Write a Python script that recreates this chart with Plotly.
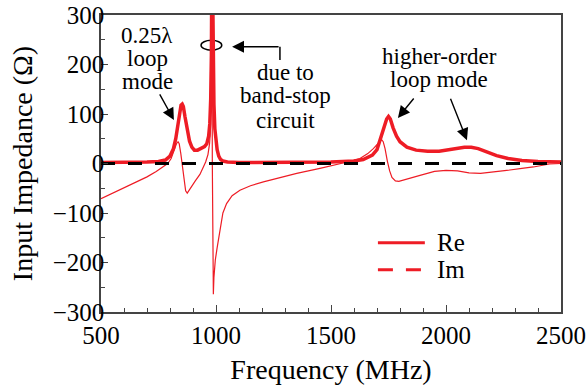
import plotly.graph_objects as go

# ---- data ----
re_freq = [500, 600, 700, 750, 780, 800, 815, 825, 835, 842, 848, 853, 858, 865, 875, 885, 895, 906,
           920, 935, 950, 960, 968, 973, 977, 980, 982, 984, 986, 988, 991, 995, 1000, 1005, 1012,
           1020, 1030, 1050, 1100, 1200, 1300, 1400, 1500, 1550, 1600, 1640, 1680, 1700, 1715,
           1730, 1742, 1750, 1758, 1770, 1785, 1800, 1830, 1870, 1920, 1970, 2000, 2040, 2080,
           2110, 2140, 2180, 2220, 2270, 2330, 2400, 2500]
re_vals = [2, 2, 3, 4, 7, 15, 30, 50, 80, 105, 118, 120, 115, 95, 65, 45, 33, 27,
           27, 30, 34, 40, 55, 80, 130, 220, 330, 600, 330, 200, 120, 70, 42, 28, 15,
           8, 5, 3, 2, 2, 2, 2, 3, 4, 5, 8, 17, 28, 50,
           75, 90, 95, 90, 72, 55, 44, 33, 27, 25, 25, 27, 30, 33,
           33, 30, 23, 16, 10, 6, 4, 3]

im_freq = [500, 550, 600, 650, 700, 740, 770, 790, 805, 818, 828, 835, 840, 847, 855, 862, 868, 875,
           882, 895, 910, 930, 945, 955, 965, 972, 975, 977, 979, 981, 984, 987, 988.5, 991, 997,
           1005, 1012, 1020, 1030, 1046, 1070, 1104, 1150, 1206, 1280, 1351, 1452, 1500, 1540,
           1580, 1626, 1660, 1684, 1700, 1712, 1720, 1727, 1735, 1745, 1755, 1765, 1780, 1795,
           1830, 1887, 1950, 2000, 2050, 2100, 2150, 2200, 2264, 2330, 2380, 2450, 2500]
im_vals = [-71, -60, -50, -38, -27, -16, -7, 0, 10, 25, 40, 44, 40, 20, -10, -38, -55, -60,
           -55, -44, -35, -22, -8, 3, 18, 40, 60, 150, 350, 600, 0, -220, -264, -230, -195,
           -170, -150, -125, -100, -81, -65, -54, -45, -37, -28, -20, -10, -5, 0,
           4, 10, 20, 30, 38, 46, 48, 44, 30, 5, -15, -28, -35, -36,
           -32, -24, -16, -14, -15, -19, -20, -18, -14, -10, -7, -1, 0]

zero_freq = [500, 2500]
zero_vals = [0, 0]

legend_labels = ["Re", "Im"]

x_range = [500, 2500]
y_range = [-300, 300]

RED = "#ee1c25"
FONT = "Liberation Serif, Times New Roman, serif"

fig = go.Figure()
fig.add_trace(go.Scatter(x=im_freq, y=im_vals, mode="lines",
                         line=dict(color=RED, width=1.2), showlegend=False))
fig.add_trace(go.Scatter(x=re_freq, y=re_vals, mode="lines", showlegend=False,
                         line=dict(color=RED, width=3.5)))
fig.add_trace(go.Scatter(x=zero_freq, y=zero_vals, mode="lines", showlegend=False,
                         line=dict(color="black", width=3, dash="14px,13px")))

axis_common = dict(
    showline=True, linecolor="#444", linewidth=1.5, mirror=True,
    ticks="inside", ticklen=7, tickwidth=1.3, tickcolor="#444",
    showgrid=False, zeroline=False, automargin=False,
    tickfont=dict(family=FONT, size=25, color="black"),
)
fig.update_xaxes(range=x_range, dtick=500, tick0=500,
                 minor=dict(dtick=100, ticks="inside", ticklen=4, tickcolor="#444", tickwidth=1.2),
                 title=dict(text="Frequency (MHz)", font=dict(family=FONT, size=28, color="black"), standoff=12),
                 **axis_common)
fig.update_yaxes(range=y_range, dtick=100, tick0=-300, ticklabelstandoff=-10,
                 minor=dict(dtick=50, ticks="inside", ticklen=4, tickcolor="#444", tickwidth=1.2),
                 title=dict(text="Input Impedance (Ω)", font=dict(family=FONT, size=28, color="black"), standoff=12),
                 **axis_common)

ann_font = dict(family=FONT, size=23, color="black")
text_lines = [
    ("0.25λ", 700, 259), ("loop", 700, 213), ("mode", 700, 166),
    ("due to", 1304, 183), ("band-stop", 1300, 137), ("circuit", 1304, 86),
    ("higher-order", 1970, 217), ("loop mode", 1970, 170),
]
annotations = [dict(x=fx, y=vy, text=t, showarrow=False, font=ann_font, borderpad=0)
               for t, fx, vy in text_lines]
arrow_kw = dict(text="", showarrow=True, arrowhead=2, arrowsize=1.7, arrowwidth=1.4, arrowcolor="black")
annotations += [
    dict(x=817, y=88, ax=-15, ay=-27, **arrow_kw),
    dict(x=1791, y=92, ax=17, ay=-21, **arrow_kw),
    dict(x=2091, y=47, ax=-17, ay=-43, **arrow_kw),
    dict(x=1070, y=236, ax=48, ay=0, **arrow_kw),
]
for a in annotations:
    a.setdefault("xref", "x")
    a.setdefault("yref", "y")

# legend (drawn in paper coordinates)
leg_y = [0.233, 0.142]
leg_dash = ["solid", "15px,13px"]
for lbl, ly, dsh in zip(legend_labels, leg_y, leg_dash):
    fig.add_shape(type="line", xref="paper", yref="paper", x0=0.602, x1=0.704, y0=ly, y1=ly,
                  line=dict(color=RED, width=3, dash=dsh))
    annotations.append(dict(xref="paper", yref="paper", x=0.727, y=ly, xanchor="left",
                            yanchor="middle", text=lbl, showarrow=False,
                            font=dict(family=FONT, size=25, color="black")))
fig.update_layout(annotations=annotations)

fig.add_shape(type="line", xref="x", yref="y", x0=1278, x1=1278, y0=236, y1=209,
              line=dict(color="black", width=1.5))
fig.add_shape(type="circle", xref="x", yref="y", x0=935, x1=1025, y0=229, y1=249,
              line=dict(color="black", width=1.5), layer="below")

fig.update_layout(
    width=586, height=387,
    margin=dict(l=101, r=25, t=15, b=75),
    paper_bgcolor="white", plot_bgcolor="white",
    font=dict(family=FONT, color="black"),
    showlegend=False,
)

fig.write_html("out.html", config={"displayModeBar": False},
               post_script="document.body.style.margin='0';document.body.style.overflow='hidden';")
